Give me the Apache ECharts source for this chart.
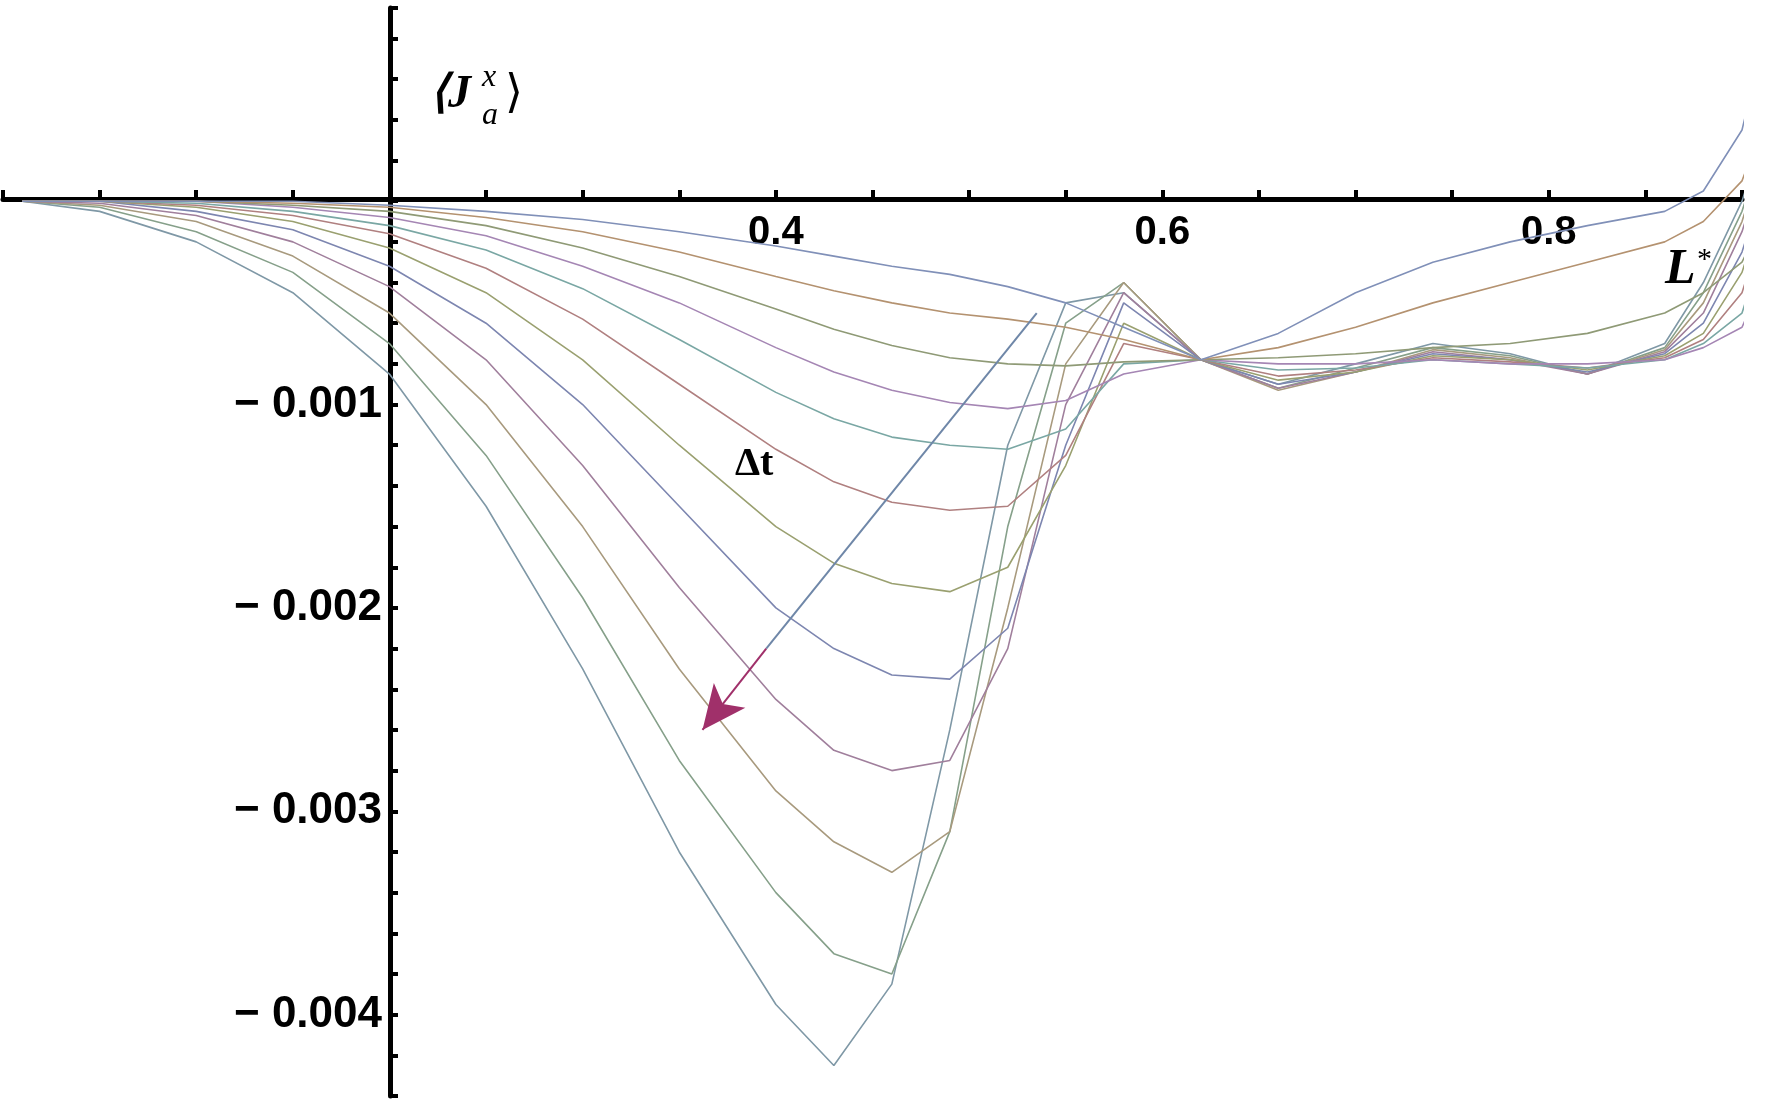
<!DOCTYPE html>
<html>
<head>
<meta charset="UTF-8">
<script src="https://cdn.jsdelivr.net/npm/echarts@6/dist/echarts.min.js"></script>
<style>
  html, body { margin: 0; background: #fff; }
  #app { width: 1777px; height: 1110px; }
</style>
</head>
<body>
<div id="app"></div>
<script>
// L* sample points
let xs = [0.01, 0.05, 0.1, 0.15, 0.2, 0.25, 0.3, 0.35, 0.4, 0.43, 0.46, 0.49, 0.52, 0.55, 0.58, 0.62, 0.66, 0.7, 0.74, 0.78, 0.82, 0.86, 0.88, 0.9, 0.91]
// <J_a^x> in units of 1e-3, one array per Δt
let c0 = [0, -0.05, -0.2, -0.45, -0.85, -1.5, -2.3, -3.2, -3.95, -4.25, -3.85, -2.6, -1.2, -0.5, -0.45, -0.78, -0.9, -0.8, -0.7, -0.75, -0.85, -0.7, -0.4, 0, 0.3]
let c1 = [0, -0.03, -0.15, -0.35, -0.7, -1.25, -1.95, -2.75, -3.4, -3.7, -3.8, -3.1, -1.6, -0.6, -0.4, -0.78, -0.92, -0.82, -0.72, -0.76, -0.85, -0.72, -0.45, -0.05, 0.25]
let c2 = [0, -0.02, -0.1, -0.27, -0.55, -1.0, -1.6, -2.3, -2.9, -3.15, -3.3, -3.1, -2.0, -0.8, -0.4, -0.78, -0.93, -0.84, -0.73, -0.77, -0.85, -0.73, -0.5, -0.1, 0.2]
let c3 = [0, -0.01, -0.07, -0.2, -0.42, -0.78, -1.3, -1.9, -2.45, -2.7, -2.8, -2.75, -2.2, -1.0, -0.45, -0.78, -0.92, -0.84, -0.74, -0.78, -0.85, -0.74, -0.55, -0.15, 0.15]
let c4 = [0, 0, -0.05, -0.14, -0.32, -0.6, -1.0, -1.5, -2.0, -2.2, -2.33, -2.35, -2.1, -1.2, -0.5, -0.78, -0.9, -0.84, -0.75, -0.78, -0.84, -0.75, -0.6, -0.25, 0.05]
let c5 = [0, 0, -0.03, -0.1, -0.23, -0.45, -0.78, -1.2, -1.6, -1.78, -1.88, -1.92, -1.8, -1.3, -0.6, -0.78, -0.88, -0.84, -0.76, -0.78, -0.83, -0.76, -0.65, -0.35, -0.05]
let c6 = [0, 0, -0.02, -0.07, -0.16, -0.33, -0.58, -0.9, -1.22, -1.38, -1.48, -1.52, -1.5, -1.25, -0.7, -0.78, -0.86, -0.83, -0.77, -0.79, -0.82, -0.77, -0.68, -0.45, -0.15]
let c7 = [0, 0, -0.01, -0.05, -0.12, -0.24, -0.43, -0.68, -0.94, -1.07, -1.16, -1.2, -1.22, -1.12, -0.8, -0.78, -0.83, -0.82, -0.78, -0.8, -0.82, -0.78, -0.7, -0.55, -0.25]
let c8 = [0, 0, 0, -0.03, -0.08, -0.17, -0.32, -0.5, -0.72, -0.84, -0.93, -0.99, -1.02, -0.98, -0.85, -0.78, -0.8, -0.8, -0.78, -0.8, -0.8, -0.78, -0.72, -0.62, -0.4]
let c9 = [0, 0, 0, -0.02, -0.05, -0.12, -0.23, -0.37, -0.53, -0.63, -0.71, -0.77, -0.8, -0.81, -0.79, -0.78, -0.77, -0.75, -0.72, -0.7, -0.65, -0.55, -0.45, -0.3, -0.1]
let c10 = [0, 0, 0, -0.01, -0.03, -0.08, -0.15, -0.25, -0.37, -0.44, -0.5, -0.55, -0.58, -0.62, -0.68, -0.78, -0.72, -0.62, -0.5, -0.4, -0.3, -0.2, -0.1, 0.1, 0.35]
let c11 = [0, 0, 0, 0, -0.02, -0.05, -0.09, -0.15, -0.22, -0.27, -0.32, -0.36, -0.42, -0.5, -0.62, -0.78, -0.65, -0.45, -0.3, -0.2, -0.12, -0.05, 0.05, 0.35, 0.75]
let curves = [c0, c1, c2, c3, c4, c5, c6, c7, c8, c9, c10, c11]
let colors = ['#7f98a6', '#86a08a', '#a89a7e', '#a07f9c', '#7d86b0', '#9aa070', '#b08080', '#7aa7a4', '#a586b4', '#8f9a76', '#b49270', '#8090b8']
let yTicks = [-4, -3, -2, -1]
let xTicks = [0.4, 0.6, 0.8]

let mCharts = echarts.init(document.getElementById('app'))
let series = curves.map((c, i) => ({
    type: 'line',
    data: c.map((v, j) => [xs[j], v]),
    symbol: 'none',
    lineStyle: { color: colors[i], width: 1.6 },
    z: 2
}))
series[0].markLine = {
    silent: true,
    symbol: ['none', 'none'],
    lineStyle: { color: '#6f87a8', width: 2, type: 'solid' },
    label: { show: false },
    data: [[{ coord: [0.535, -0.55] }, { coord: [0.395, -2.2] }]]
}
series[1].markLine = {
    silent: true,
    symbol: ['none', 'arrow'],
    symbolSize: [30, 44],
    lineStyle: { color: '#a0306a', width: 2, type: 'solid' },
    label: { show: false },
    data: [[{ coord: [0.395, -2.2] }, { coord: [0.362, -2.6] }]]
}
let option = {
    animation: false,
    grid: { left: 0, right: 35, top: 8, bottom: 14 },
    xAxis: {
        type: 'value', min: 0, max: 0.9, interval: 0.05,
        position: 'top', offset: -191,
        axisLine: { onZero: false, lineStyle: { color: '#000', width: 5 } },
        axisTick: { inside: false, length: 9, lineStyle: { color: '#000', width: 4 } },
        splitLine: { show: false },
        axisLabel: {
            inside: true, margin: 14, color: '#000', fontSize: 40, fontFamily: 'Liberation Sans Narrow, Liberation Sans', fontWeight: 'bold',
            verticalAlign: 'top',
            formatter: v => xTicks.some(t => Math.abs(t - v) < 1e-6) ? v.toFixed(1) : ''
        }
    },
    yAxis: {
        type: 'value', min: -4.4, max: 0.95, interval: 0.2,
        offset: -387,
        axisLine: { lineStyle: { color: '#000', width: 5 } },
        axisTick: { inside: true, length: 8, lineStyle: { color: '#000', width: 4 } },
        splitLine: { show: false },
        axisLabel: {
            margin: 8, color: '#000', fontSize: 44, fontFamily: 'Liberation Sans Narrow, Liberation Sans', fontWeight: 'bold',
            formatter: v => yTicks.some(t => Math.abs(t - v) < 1e-6) ? '\u2212 0.00' + (-Math.round(v)) : ''
        }
    },
    graphic: [
        { type: 'text', left: 430, top: 72, style: { text: '\u27E8J', font: 'italic bold 46px Liberation Serif', fill: '#000' } },
        { type: 'text', left: 482, top: 100, style: { text: 'a', font: 'italic 32px Liberation Serif', fill: '#000' } },
        { type: 'text', left: 482, top: 62, style: { text: 'x', font: 'italic 32px Liberation Serif', fill: '#000' } },
        { type: 'text', left: 505, top: 72, style: { text: '\u27E9', font: '46px Liberation Serif', fill: '#000' } },
        { type: 'text', left: 735, top: 445, style: { text: '\u0394t', font: 'bold 40px Liberation Serif', fill: '#000' } },
        { type: 'text', left: 1665, top: 245, style: { text: 'L', font: 'italic bold 50px Liberation Serif', fill: '#000' } },
        { type: 'text', left: 1697, top: 245, style: { text: '*', font: '30px Liberation Serif', fill: '#000' } }
    ],
    series: series
}
mCharts.setOption(option)
</script>
</body>
</html>
